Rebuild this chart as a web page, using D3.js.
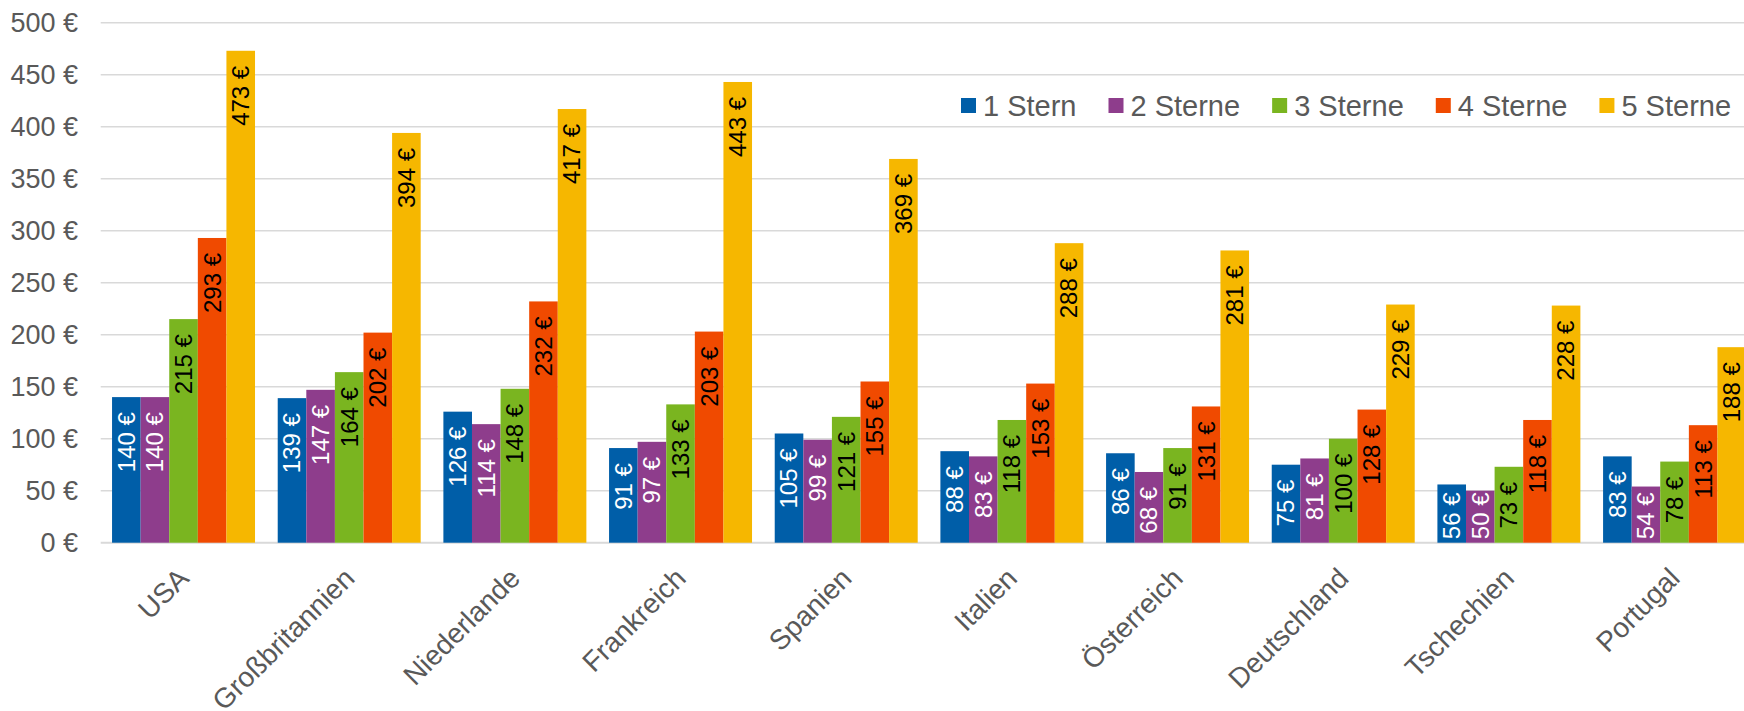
<!DOCTYPE html>
<html>
<head>
<meta charset="utf-8">
<script src="https://cdn.jsdelivr.net/npm/d3@7"></script>
<style>
    body { margin: 0; background: #fff; }
    svg { display: block; font-family: "Liberation Sans", Arial, sans-serif; }
</style>
</head>
<body>
<svg width="1744" height="711"></svg>
<script>
// Hotel prices per night by country and star category

const categories = ["USA", "Großbritannien", "Niederlande", "Frankreich", "Spanien",
    "Italien", "Österreich", "Deutschland", "Tschechien", "Portugal"];
const seriesNames = ["1 Stern", "2 Sterne", "3 Sterne", "4 Sterne", "5 Sterne"];
const stern1 = [140, 139, 126, 91, 105, 88, 86, 75, 56, 83];
const stern2 = [140, 147, 114, 97, 99, 83, 68, 81, 50, 54];
const stern3 = [215, 164, 148, 133, 121, 118, 91, 100, 73, 78];
const stern4 = [293, 202, 232, 203, 155, 153, 131, 128, 118, 113];
const stern5 = [473, 394, 417, 443, 369, 288, 281, 229, 228, 188];
const yTicks = [0, 50, 100, 150, 200, 250, 300, 350, 400, 450, 500];

const seriesValues = [stern1, stern2, stern3, stern4, stern5];
const colors = ["#005ea8", "#8e3d8c", "#7ab520", "#f04a00", "#f6b700"];
const labelColors = ["#fff", "#fff", "#000", "#000", "#000"];

const svg = d3.select("svg");

// Layout: the plot runs a bit past the right edge, like the original
const plotLeft = 100.7;
const plotRight = 1757.4;
const y = d3.scaleLinear().domain([0, 500]).range([542.7, 22.7]);

const x0 = d3.scaleBand()
    .domain(categories)
    .range([plotLeft, plotRight])
    .paddingInner(0.137)
    .paddingOuter(0.0685);

const x1 = d3.scaleBand()
    .domain(seriesNames)
    .range([0, x0.bandwidth()]);

// Gridlines
svg.append("g")
    .selectAll("line")
    .data(yTicks)
    .join("line")
    .attr("x1", plotLeft)
    .attr("x2", 1744)
    .attr("y1", d => y(d))
    .attr("y2", d => y(d))
    .attr("stroke", "#d9d9d9")
    .attr("stroke-width", d => d === 0 ? 2 : 1.5);

// Y axis labels
svg.append("g")
    .selectAll("text")
    .data(yTicks)
    .join("text")
    .attr("x", 78)
    .attr("y", d => y(d))
    .attr("dy", "0.35em")
    .attr("text-anchor", "end")
    .attr("font-size", "27px")
    .attr("fill", "#595959")
    .text(d => `${d} €`);

// Bars per series
const rows = categories.map((c, i) => ({
    country: c,
    values: seriesNames.map((s, k) => ({ series: s, k: k, value: seriesValues[k][i] }))
}));

const groups = svg.append("g")
    .selectAll("g")
    .data(rows)
    .join("g")
    .attr("transform", d => `translate(${x0(d.country)},0)`);

groups.selectAll("rect")
    .data(d => d.values)
    .join("rect")
    .attr("x", d => x1(d.series))
    .attr("y", d => y(d.value))
    .attr("width", x1.bandwidth())
    .attr("height", d => y(0) - y(d.value))
    .attr("fill", d => colors[d.k]);

// Value labels, rotated, placed at the inside end of each bar
const labelSize = 24;
groups.selectAll("text")
    .data(d => d.values)
    .join("text")
    .attr("font-size", labelSize + "px")
    .attr("fill", d => labelColors[d.k])
    .attr("text-anchor", "start")
    .attr("dy", "0.35em")
    .text(d => `${d.value} €`)
    .attr("transform", function (d) {
        const len = this.getComputedTextLength();
        // start of text sits at the bottom; keep it inside the bar
        const start = Math.min(y(d.value) + 15 + len, y(0) - 3.5);
        const cx = x1(d.series) + x1.bandwidth() / 2;
        return `translate(${cx},${start}) rotate(-90)`;
    });

// Category labels at -45 degrees
svg.append("g")
    .selectAll("text")
    .data(categories)
    .join("text")
    .attr("transform", d => `translate(${x0(d) + x0.bandwidth() / 2},573) rotate(-45)`)
    .attr("text-anchor", "end")
    .attr("dy", "0.35em")
    .attr("font-size", "28px")
    .attr("fill", "#595959")
    .text(d => d);

// Legend, laid out from left to right
const legend = svg.append("g");
let lx = 961;
seriesNames.forEach((name, k) => {
    legend.append("rect")
        .attr("x", lx)
        .attr("y", 98)
        .attr("width", 15)
        .attr("height", 15)
        .attr("fill", colors[k]);
    const t = legend.append("text")
        .attr("x", lx + 22)
        .attr("y", 105.5)
        .attr("dy", "0.35em")
        .attr("font-size", "29px")
        .attr("fill", "#595959")
        .text(name);
    lx += 22 + t.node().getComputedTextLength() + 32;
});
</script>
</body>
</html>
